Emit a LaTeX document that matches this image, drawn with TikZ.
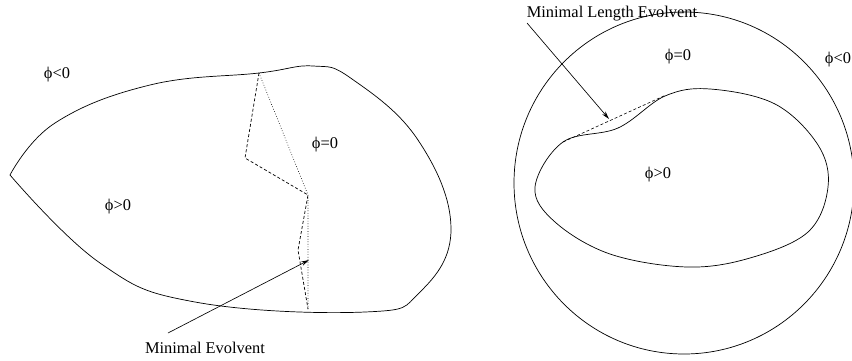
\documentclass[tikz,border=0pt]{standalone}
\usepackage{fontspec}
\setmainfont{Liberation Serif}
\usepackage{tikz}
\usetikzlibrary{arrows.meta,positioning}

\begin{document}
\begin{tikzpicture}[
    x=0.03cm, y=-0.03cm,
    every node/.style={font=\fontsize{14}{16}\selectfont, inner sep=1pt},
    bnd/.style={line width=0.6pt},
    evl/.style={line width=0.6pt, dash pattern=on 2.6pt off 1.8pt},
    cvx/.style={line width=0.5pt, dash pattern=on 0.6pt off 1.6pt},
    e/.style={line width=0.55pt, -{Stealth[length=2.4mm, width=1.3mm]}},
  ]
  \useasboundingbox (0,0) rectangle (852,360);
  % left: nonconvex region
  \draw[bnd] plot[smooth, tension=0.7] coordinates {
    (10,175) (55,123) (150,85) (259,73) (313,66) (352,79)
    (418,140) (451,228) (420,292) (365,312)
    (195,302) (100,263) (10,175)};
  \coordinate (p0) at (259,73);
  \coordinate (p1) at (245,158);
  \coordinate (p2) at (308,195);
  \coordinate (p3) at (298,250);
  \coordinate (p4) at (308,309);
  \draw[evl] (p0) -- (p1) -- (p2) -- (p3) -- (p4);
  \draw[cvx] (p0) -- (p2) -- (p4);
  \node (ln) at (57,75) {ϕ<0};
  \node (lp) at (118,207) {ϕ>0};
  \node (lz) at (325,145) {ϕ=0};
  \node (me) at (205,348) {Minimal Evolvent};
  \coordinate (me-tail) at (168,333);
  \coordinate (me-tip) at (309,260);
  \draw[e] (me-tail) -- (me-tip);
  % right: circle with blob inside
  \draw[bnd] (684,183) ellipse [x radius=170, y radius=171];
  \draw[bnd] plot[smooth cycle, tension=0.6] coordinates {
    (535,187) (563,142) (618,128) (665,96) (710,89) (775,104)
    (818,145) (828,187) (808,232) (750,258) (687,267) (610,254)
    (555,222)};
  \coordinate (q0) at (563,142);
  \coordinate (q1) at (666,95);
  \draw[evl, line width=0.5pt] (q0) -- (q1);
  \node (rz) at (678,57) {ϕ=0};
  \node (rn) at (838,60) {ϕ<0};
  \node (rp) at (658,175) {ϕ>0};
  \node (mle) at (612,14) {Minimal Length Evolvent};
  \coordinate (mle-tail) at (527,23);
  \coordinate (mle-tip) at (609,119);
  \draw[e] (mle-tail) -- (mle-tip);
\end{tikzpicture}
\end{document}
